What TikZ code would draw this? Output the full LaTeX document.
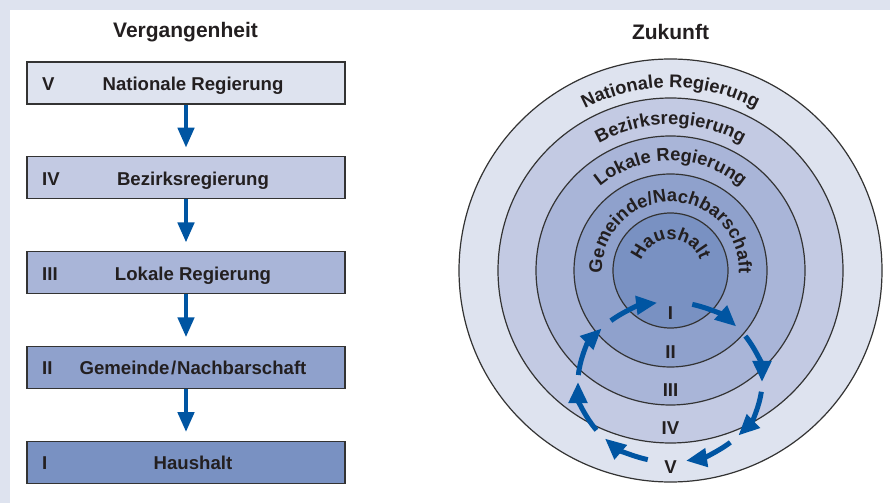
\documentclass[tikz,border=0pt]{standalone}
\usepackage{fontspec}
\setmainfont{Liberation Sans}
\usetikzlibrary{arrows.meta,decorations.text,calc}
\definecolor{bgc}{HTML}{DEE3EF}
\definecolor{cV}{HTML}{DEE3EF}
\definecolor{cIV}{HTML}{C3CAE3}
\definecolor{cIII}{HTML}{A9B5D8}
\definecolor{cII}{HTML}{8FA1CC}
\definecolor{cI}{HTML}{7991C2}
\definecolor{arrc}{HTML}{0055A2}
\definecolor{txtc}{HTML}{231F20}
\definecolor{bordc}{HTML}{333333}
\begin{document}
\begin{tikzpicture}[x=1pt,y=1pt,
  lvlbox/.style={draw=bordc, line width=1.2pt, minimum width=318pt, minimum height=42pt, inner sep=0pt},
  lbl/.style={font=\bfseries\fontsize{18.6}{18.6}\selectfont, text=txtc, inner sep=0pt},
  ttl/.style={font=\bfseries\fontsize{21}{21}\selectfont, text=txtc, inner sep=0pt},
  downarr/.style={draw=arrc, line width=4.5pt, -{Triangle[width=16pt,length=20pt]}},
  ringarr/.style={draw=arrc, line width=5pt, -{Triangle[width=18pt,length=21pt]}},
  ringc/.style={circle, draw=bordc, line width=1.2pt, inner sep=0pt},
  curved/.style={decorate, decoration={text along path, text align=center, text color=txtc,
     text={|\bfseries\fontsize{18.3}{18.3}\selectfont|#1}}}
]
\useasboundingbox (0,0) rectangle (890,503);
\fill[bgc] (0,0) rectangle (890,503);
\fill[white] (10,0) rectangle (890,493);

% titles
\node[ttl] (t1) at (185.5,471) {Vergangenheit};
\node[ttl] (t2) at (670.5,471) {Zukunft};

% left: boxes
\foreach \nm/\yc/\col/\num/\txt in {
   b5/420/cV/V/{Nationale Regierung},
   b4/325.2/cIV/IV/{Bezirksregierung},
   b3/230.4/cIII/III/{Lokale Regierung},
   b2/135.6/cII/II/{Gemeinde\kern1.5pt/\kern1pt Nachbarschaft},
   b1/40.8/cI/I/{Haushalt}}{
  \node[lvlbox, fill=\col] (\nm) at (186,\yc) {};
  \node[lbl, anchor=base west] (\nm n) at (42,\yc-7.5) {\num};
  \node[lbl, anchor=base] (\nm t) at (193,\yc-7.5) {\txt};
}
\draw[downarr] (b5.south) -- ([yshift=8.5pt]b4.north);
\draw[downarr] (b4.south) -- ([yshift=8.5pt]b3.north);
\draw[downarr] (b3.south) -- ([yshift=8.5pt]b2.north);
\draw[downarr] (b2.south) -- ([yshift=8.5pt]b1.north);

% right: circles
\coordinate (C) at (670.5,232.5);
\node[ringc, fill=cV, minimum size=423pt] (z5) at (C) {};
\node[ringc, fill=cIV, minimum size=345pt] (z4) at (C) {};
\node[ringc, fill=cIII, minimum size=269pt] (z3) at (C) {};
\node[ringc, fill=cII, minimum size=193pt] (z2) at (C) {};
\node[ringc, fill=cI, minimum size=115pt] (z1) at (C) {};

\path[curved=Nationale Regierung] ($(C)+(160:183pt)$) arc[start angle=160, end angle=20, radius=183pt];
\path[curved=Bezirksregierung] ($(C)+(160:146pt)$) arc[start angle=160, end angle=20, radius=146pt];
\path[curved=Lokale Regierung] ($(C)+(170:109.5pt)$) arc[start angle=170, end angle=10, radius=109.5pt];
\path[curved=Gemeinde/Nachbarschaft] ($(C)+(200:68.5pt)$) arc[start angle=200, end angle=-20, radius=68.5pt];
\path[curved=Haushalt] ($(C)+(200:31pt)$) arc[start angle=200, end angle=-20, radius=31pt];

\node[lbl] (r1) at (670.5,190) {I};
\node[lbl] (r2) at (670.5,151) {II};
\node[lbl] (r3) at (670.5,113) {III};
\node[lbl] (r4) at (670.5,75) {IV};
\node[lbl] (r5) at (670.5,36) {V};

% cycle arrows
\coordinate (E) at (670,121);
\foreach \s/\e in {130/98, 76/44, 35/0, -7/-42, -49/-80, -104/-135, -143/-180, 175/138}{
  \draw[ringarr] ($(E)+(\s:92pt and 80pt)$) arc[start angle=\s, end angle=\e, x radius=92pt, y radius=80pt];
}
\end{tikzpicture}
\end{document}
